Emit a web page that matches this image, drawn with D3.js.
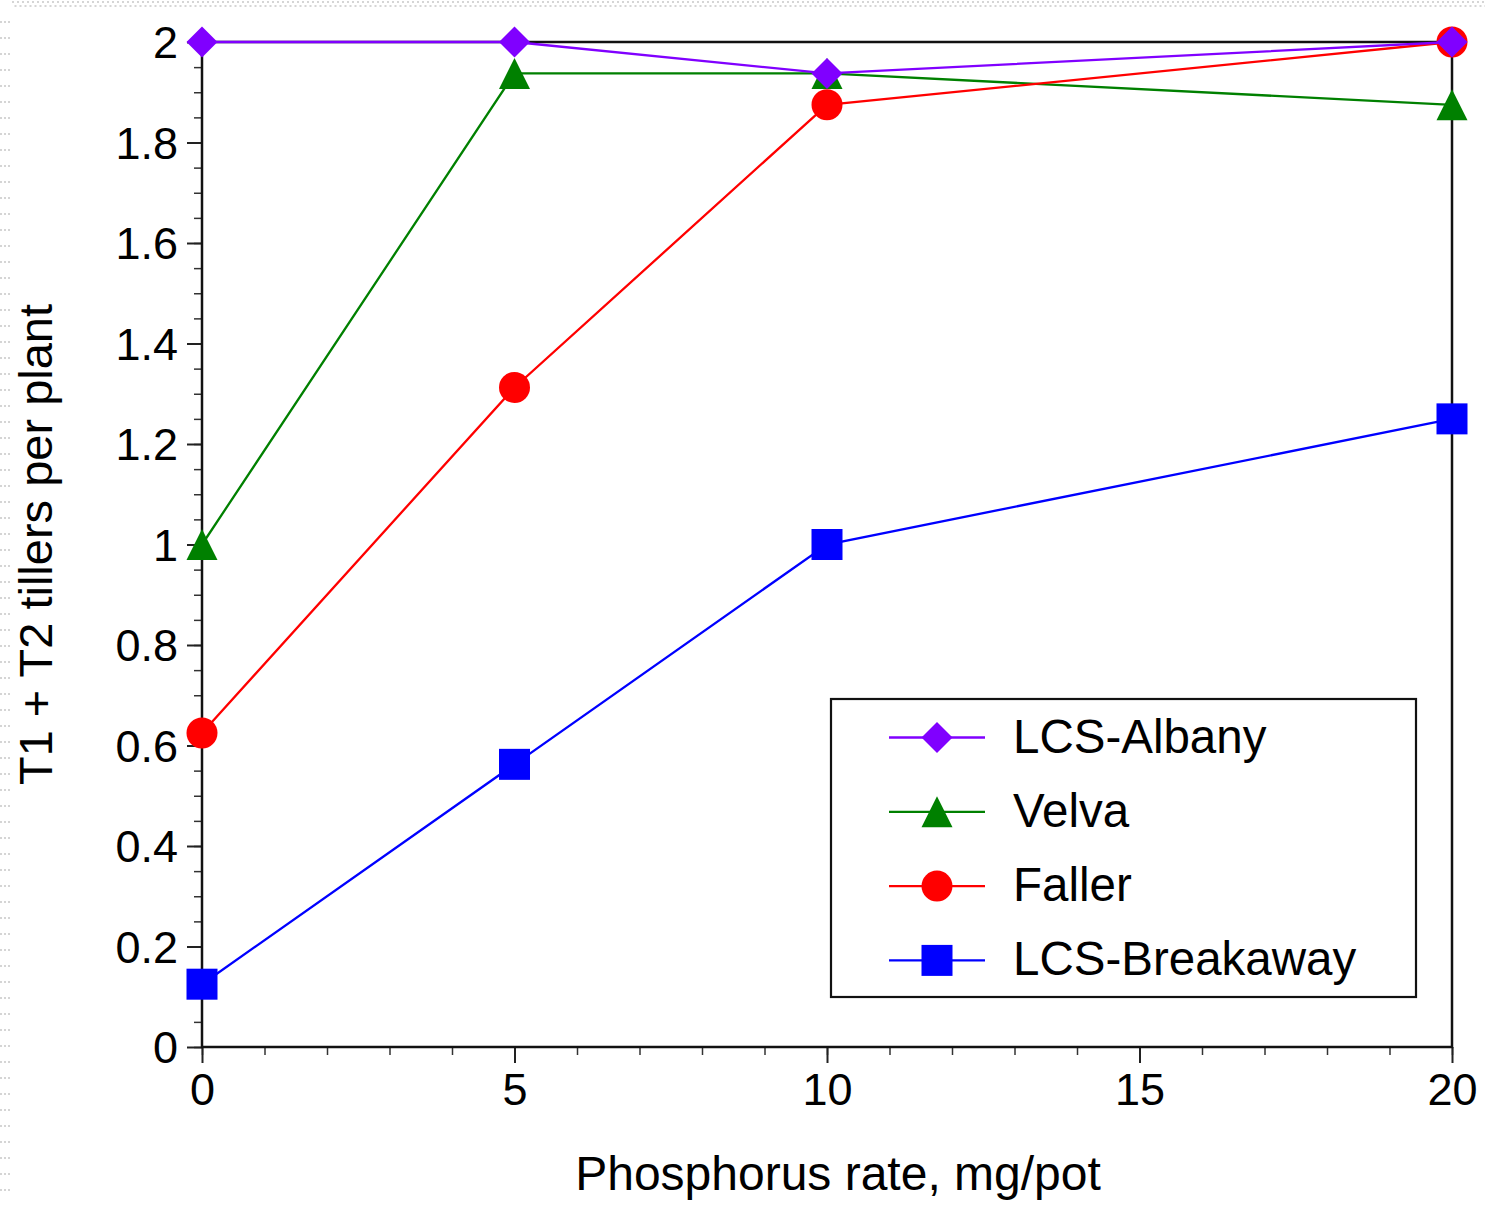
<!DOCTYPE html>
<html>
<head>
<meta charset="utf-8">
<script src="https://cdn.jsdelivr.net/npm/d3@7"></script>
<style>
    body { margin: 0; background: #fff; }
    svg { display: block; }
    text { font-family: "Liberation Sans", Arial, Helvetica, sans-serif; fill: #000; }
</style>
</head>
<body>
<svg></svg>
<script>
// phosphorus rate, mg/pot
const rates = [0, 5, 10, 20];
const seriesNames = ["LCS-Albany", "Velva", "Faller", "LCS-Breakaway"];
const albany = [2, 2, 1.9375, 2];
const velva = [1, 1.9375, 1.9375, 1.875];
const faller = [0.625, 1.3125, 1.875, 2];
const breakaway = [0.125, 0.5625, 1, 1.25];
const xTicks = [0, 5, 10, 15, 20];
const yTicks = [0, 0.2, 0.4, 0.6, 0.8, 1, 1.2, 1.4, 1.6, 1.8, 2];

let width = 1485
let height = 1205

const series = [
    {name: seriesNames[0], values: albany, color: "#8000ff", shape: "diamond"},
    {name: seriesNames[1], values: velva, color: "#008000", shape: "triangle"},
    {name: seriesNames[2], values: faller, color: "#ff0000", shape: "circle"},
    {name: seriesNames[3], values: breakaway, color: "#0000ff", shape: "square"}
];

// marker outlines, centred on the point, half size s
let markerPath = function (shape, s) {
    if (shape === "diamond") return `M0,${-s}L${s},0L0,${s}L${-s},0Z`;
    if (shape === "triangle") return `M0,${-s}L${s},${s}L${-s},${s}Z`;
    if (shape === "square") return `M${-s},${-s}H${s}V${s}H${-s}Z`;
    return `M${s},0A${s},${s} 0 1,1 ${-s},0A${s},${s} 0 1,1 ${s},0Z`;
}

const svg = d3.select("svg")
    .attr("width", width)
    .attr("height", height);

// faint dotted page edge seen in the reference
const edge = svg.append("g").attr("stroke", "#c8c8c8").attr("stroke-width", 1.3);
edge.append("line").attr("x1", 12).attr("x2", width).attr("y1", 2).attr("y2", 2)
    .attr("stroke-dasharray", "2,3");
edge.append("line").attr("x1", 12).attr("x2", width).attr("y1", 6).attr("y2", 6)
    .attr("stroke-dasharray", "2,3").attr("stroke-dashoffset", 2.5);
edge.selectAll("line.row")
    .data(d3.range(22, height, 16))
    .join("line")
    .attr("class", "row")
    .attr("x1", 0).attr("x2", 10)
    .attr("y1", d => d).attr("y2", d => d)
    .attr("stroke-dasharray", "2,2");

const x = d3.scaleLinear().domain([0, 20]).range([202, 1452]);
const y = d3.scaleLinear().domain([0, 2]).range([1047, 42]);

// minor ticks
svg.append("g")
    .attr("transform", `translate(0,${y(0)})`)
    .call(d3.axisBottom(x).tickValues(d3.range(0, 21, 1)).tickSize(8).tickSizeOuter(0).tickFormat(""))
    .call(g => g.select(".domain").remove())
    .call(g => g.selectAll("line").attr("stroke-width", 1.5).attr("stroke", "#333"));
svg.append("g")
    .attr("transform", `translate(${x(0)},0)`)
    .call(d3.axisLeft(y).tickValues(d3.range(0, 41).map(i => i * 0.05)).tickSize(8).tickSizeOuter(0).tickFormat(""))
    .call(g => g.select(".domain").remove())
    .call(g => g.selectAll("line").attr("stroke-width", 1.5).attr("stroke", "#333"));

// major ticks + labels
svg.append("g")
    .attr("transform", `translate(0,${y(0)})`)
    .call(d3.axisBottom(x).tickValues(xTicks).tickSize(16).tickPadding(10).tickSizeOuter(0).tickFormat(d3.format("d")))
    .call(g => g.select(".domain").remove())
    .call(g => g.selectAll("line").attr("stroke-width", 2).attr("stroke", "#222"))
    .call(g => g.selectAll("text").attr("font-size", 45).attr("font-family", null).attr("dy", "0.72em"));
svg.append("g")
    .attr("transform", `translate(${x(0)},0)`)
    .call(d3.axisLeft(y).tickValues(yTicks).tickSize(15).tickPadding(9).tickSizeOuter(0).tickFormat(d => d3.format("")(+d.toFixed(1))))
    .call(g => g.select(".domain").remove())
    .call(g => g.selectAll("line").attr("stroke-width", 2).attr("stroke", "#222"))
    .call(g => g.selectAll("text").attr("font-size", 45).attr("font-family", null).attr("dy", "0.35em"));

// plot frame
svg.append("rect")
    .attr("x", x(0)).attr("y", y(2))
    .attr("width", x(20) - x(0)).attr("height", y(0) - y(2))
    .attr("fill", "none").attr("stroke", "#111").attr("stroke-width", 2.5);

// axis titles
svg.append("text")
    .attr("x", 838).attr("y", 1190)
    .attr("text-anchor", "middle")
    .attr("font-size", 48)
    .text("Phosphorus rate, mg/pot");
svg.append("text")
    .attr("transform", `translate(52,${(y(0) + y(2)) / 2}) rotate(-90)`)
    .attr("text-anchor", "middle")
    .attr("font-size", 47)
    .text("T1 + T2 tillers per plant");

// series, drawn bottom-up so LCS-Albany sits on top
const drawOrder = [3, 1, 2, 0];
const line = d3.line().x((d, i) => x(rates[i])).y(d => y(d));
for (let k of drawOrder) {
    const s = series[k];
    const g = svg.append("g");
    g.append("path")
        .attr("d", line(s.values))
        .attr("fill", "none")
        .attr("stroke", s.color)
        .attr("stroke-width", 2.3);
    g.selectAll("path.marker")
        .data(s.values)
        .join("path")
        .attr("class", "marker")
        .attr("transform", (d, i) => `translate(${x(rates[i])},${y(d)})`)
        .attr("d", markerPath(s.shape, 15.5))
        .attr("fill", s.color);
}

// legend
const legend = svg.append("g");
legend.append("rect")
    .attr("x", 831).attr("y", 699)
    .attr("width", 585).attr("height", 298)
    .attr("fill", "#fff").attr("stroke", "#111").attr("stroke-width", 2.2);
const item = legend.selectAll("g.item")
    .data(series)
    .join("g")
    .attr("class", "item")
    .attr("transform", (d, i) => `translate(0,${737.5 + i * 74.3})`);
item.append("line")
    .attr("x1", 889).attr("x2", 985)
    .attr("stroke", d => d.color).attr("stroke-width", 2.3);
item.append("path")
    .attr("transform", "translate(937,0)")
    .attr("d", d => markerPath(d.shape, 15.5))
    .attr("fill", d => d.color);
item.append("text")
    .attr("x", 1013).attr("y", 15)
    .attr("font-size", 47.5)
    .text(d => d.name);
</script>
</body>
</html>
